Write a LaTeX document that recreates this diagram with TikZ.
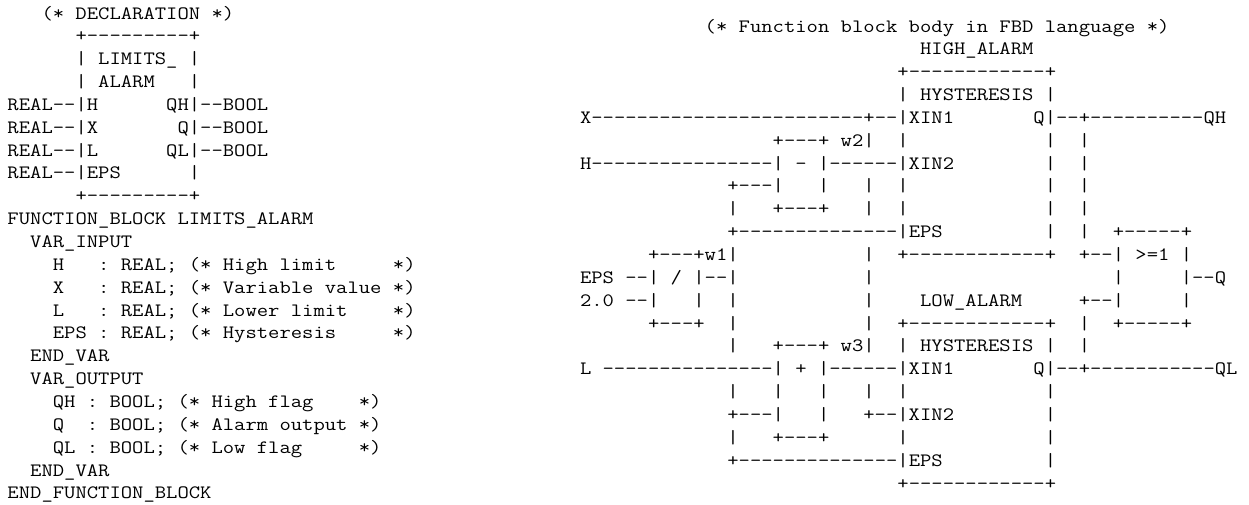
\documentclass[tikz,border=0pt]{standalone}
\usepackage{fontspec}
\setmonofont[FakeStretch=1.167]{Latin Modern Mono}
\tikzset{x=0.0264583cm,y=-0.0264583cm,
  asciiline/.style={anchor=base west,inner sep=0pt,outer sep=0pt,font=\ttfamily\fontsize{14.2pt}{16pt}\selectfont}}
\newcommand{\leftrow}[2]{\node[asciiline] (l#1) at (7.5,{19+22.85*(#1-1)}) {#2};}
\newcommand{\rightrow}[2]{\node[asciiline] (r#1) at (580,{32+22.85*(#1-1)}) {#2};}
\begin{document}
\begin{tikzpicture}
\useasboundingbox (0,0) rectangle (1249,504);
\leftrow{1}{~~~(*~DECLARATION~*)}
\leftrow{2}{~~~~~~+---------+}
\leftrow{3}{~~~~~~|~LIMITS\_~|}
\leftrow{4}{~~~~~~|~ALARM~~~|}
\leftrow{5}{REAL--|H~~~~~~QH|--BOOL}
\leftrow{6}{REAL--|X~~~~~~~Q|--BOOL}
\leftrow{7}{REAL--|L~~~~~~QL|--BOOL}
\leftrow{8}{REAL--|EPS~~~~~~|}
\leftrow{9}{~~~~~~+---------+}
\leftrow{10}{FUNCTION\_BLOCK~LIMITS\_ALARM}
\leftrow{11}{~~VAR\_INPUT}
\leftrow{12}{~~~~H~~~:~REAL;~(*~High~limit~~~~~*)}
\leftrow{13}{~~~~X~~~:~REAL;~(*~Variable~value~*)}
\leftrow{14}{~~~~L~~~:~REAL;~(*~Lower~limit~~~~*)}
\leftrow{15}{~~~~EPS~:~REAL;~(*~Hysteresis~~~~~*)}
\leftrow{16}{~~END\_VAR}
\leftrow{17}{~~VAR\_OUTPUT}
\leftrow{18}{~~~~QH~:~BOOL;~(*~High~flag~~~~*)}
\leftrow{19}{~~~~Q~~:~BOOL;~(*~Alarm~output~*)}
\leftrow{20}{~~~~QL~:~BOOL;~(*~Low~flag~~~~~*)}
\leftrow{21}{~~END\_VAR}
\leftrow{22}{END\_FUNCTION\_BLOCK}
\rightrow{1}{~~~~~~~~~~~(*~Function~block~body~in~FBD~language~*)}
\rightrow{2}{~~~~~~~~~~~~~~~~~~~~~~~~~~~~~~HIGH\_ALARM}
\rightrow{3}{~~~~~~~~~~~~~~~~~~~~~~~~~~~~+------------+}
\rightrow{4}{~~~~~~~~~~~~~~~~~~~~~~~~~~~~|~HYSTERESIS~|}
\rightrow{5}{X------------------------+--|XIN1~~~~~~~Q|--+----------QH}
\rightrow{6}{~~~~~~~~~~~~~~~~~+---+~w2|~~|~~~~~~~~~~~~|~~|}
\rightrow{7}{H----------------|~-~|------|XIN2~~~~~~~~|~~|}
\rightrow{8}{~~~~~~~~~~~~~+---|~~~|~~~|~~|~~~~~~~~~~~~|~~|}
\rightrow{9}{~~~~~~~~~~~~~|~~~+---+~~~|~~|~~~~~~~~~~~~|~~|}
\rightrow{10}{~~~~~~~~~~~~~+--------------|EPS~~~~~~~~~|~~|~~+-----+}
\rightrow{11}{~~~~~~+---+w1|~~~~~~~~~~~|~~+------------+~~+--|~>=1~|}
\rightrow{12}{EPS~--|~/~|--|~~~~~~~~~~~|~~~~~~~~~~~~~~~~~~~~~|~~~~~|--Q}
\rightrow{13}{2.0~--|~~~|~~|~~~~~~~~~~~|~~~~LOW\_ALARM~~~~~+--|~~~~~|}
\rightrow{14}{~~~~~~+---+~~|~~~~~~~~~~~|~~+------------+~~|~~+-----+}
\rightrow{15}{~~~~~~~~~~~~~|~~~+---+~w3|~~|~HYSTERESIS~|~~|}
\rightrow{16}{L~---------------|~+~|------|XIN1~~~~~~~Q|--+-----------QL}
\rightrow{17}{~~~~~~~~~~~~~|~~~|~~~|~~~|~~|~~~~~~~~~~~~|}
\rightrow{18}{~~~~~~~~~~~~~+---|~~~|~~~+--|XIN2~~~~~~~~|}
\rightrow{19}{~~~~~~~~~~~~~|~~~+---+~~~~~~|~~~~~~~~~~~~|}
\rightrow{20}{~~~~~~~~~~~~~+--------------|EPS~~~~~~~~~|}
\rightrow{21}{~~~~~~~~~~~~~~~~~~~~~~~~~~~~+------------+}
\end{tikzpicture}
\end{document}
